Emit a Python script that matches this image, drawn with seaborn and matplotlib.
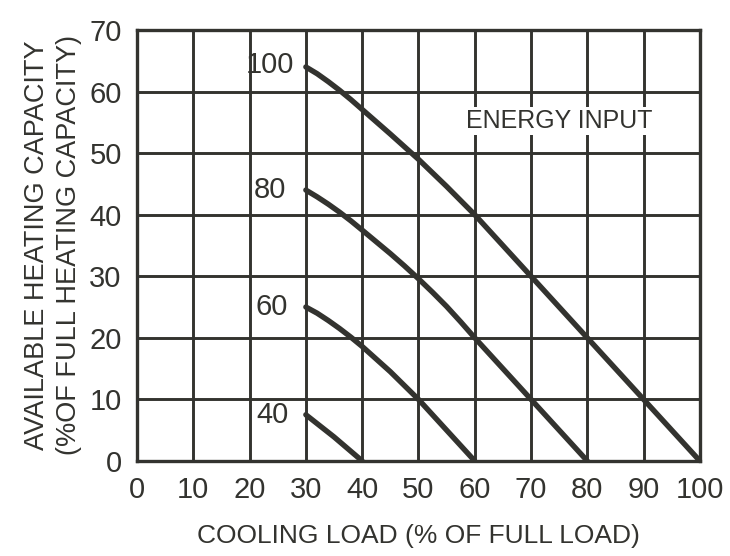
import pandas as pd
import matplotlib
matplotlib.use("Agg")
import matplotlib.pyplot as plt
import seaborn as sns

# energy input curves: cooling load (%) vs available heating capacity (%)
load_100 = [30, 32, 34, 36, 38, 40, 45, 50, 55, 60, 70, 80, 90, 100]
cap_100 = [64, 62.9, 61.6, 60.2, 58.7, 57.1, 53.1, 49.0, 44.6, 40, 30, 20, 10, 0]
load_80 = [30, 32, 34, 36, 38, 40, 42.5, 45, 47.5, 50, 52.5, 55, 57.5, 60, 70, 80]
cap_80 = [44, 42.9, 41.7, 40.4, 39.0, 37.5, 35.6, 33.7, 31.7, 29.6, 27.4,
          25.1, 22.6, 20, 10, 0]
load_60 = [30, 32, 34, 36, 38, 40, 45, 50, 55, 60]
cap_60 = [25, 24.0, 22.8, 21.5, 20.1, 18.6, 14.5, 10, 5, 0]
load_40 = [30, 35, 40]
cap_40 = [7.5, 3.9, 0]

curve_labels = ["100", "80", "60", "40"]
label_x = [23.6, 23.6, 24.0, 24.0]
label_y = [64.3, 44, 25, 7.5]

frames = []
for name, xs, ys in [("100", load_100, cap_100), ("80", load_80, cap_80),
                     ("60", load_60, cap_60), ("40", load_40, cap_40)]:
    frames.append(pd.DataFrame({"load": xs, "capacity": ys, "input": name}))
df = pd.concat(frames, ignore_index=True)

ink = "#33332f"
sns.set_style("white")
plt.rcParams["font.family"] = ["Liberation Sans", "DejaVu Sans"]

fig = plt.figure(figsize=(7.3, 5.56), dpi=100)
ax = fig.add_axes([0.1877, 0.171, 0.771, 0.775])

sns.lineplot(data=df, x="load", y="capacity", hue="input", units="input",
             estimator=None, sort=False, palette=[ink] * 4, linewidth=3.9,
             legend=False, ax=ax, zorder=4)

ax.set_xlim(0, 100)
ax.set_ylim(0, 70)
ax.set_xticks(range(0, 101, 10))
ax.set_yticks(range(0, 71, 10))
ax.grid(True, color=ink, linewidth=2.1)
ax.set_axisbelow(True)
for s in ax.spines.values():
    s.set_color(ink)
    s.set_linewidth(2.4)
ax.tick_params(length=0, labelsize=21, colors=ink, pad=11)

ax.set_xlabel("COOLING LOAD (% OF FULL LOAD)", fontsize=19, color=ink, labelpad=14)
ax.set_ylabel("AVAILABLE HEATING CAPACITY\n(%OF FULL HEATING CAPACITY)",
              fontsize=19.5, color=ink, labelpad=5, linespacing=1.3)

for lab, xx, yy in zip(curve_labels, label_x, label_y):
    ax.text(xx, yy, lab, fontsize=21, color=ink, ha="center", va="center", zorder=5)

ax.text(75, 55.3, "ENERGY INPUT", fontsize=18, color=ink, ha="center",
        va="center", zorder=5,
        bbox=dict(facecolor="white", edgecolor="none", pad=1.5))

fig.savefig("out.png", dpi=100)
